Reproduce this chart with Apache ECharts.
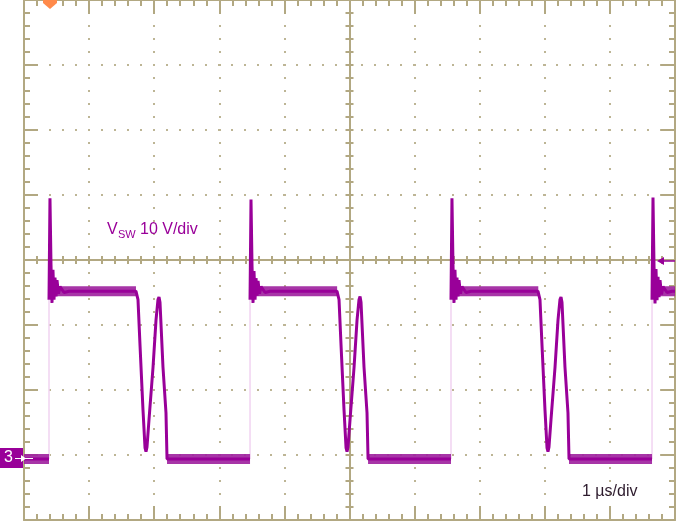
<!DOCTYPE html>
<html>
<head>
<meta charset="utf-8">
<script src="https://cdn.jsdelivr.net/npm/echarts@6/dist/echarts.min.js"></script>
<style>
html,body{margin:0;padding:0;background:#fff;}
#c{width:677px;height:523px;}
</style>
</head>
<body>
<div id="c"></div>
<script>
// ---- data (time in µs, V_SW in volts; ground of channel 3 at 0 V) ----
const timeUs = [
  0, 0.384, 0.384,
  0.384, 0.399, 0.415, 0.430, 0.445, 0.461, 0.476, 0.492, 0.507, 0.530, 0.553, 0.614, 0.691, 1.720, 1.751, 1.782, 1.828, 1.859, 1.874, 1.889, 1.920, 1.982, 2.028, 2.058, 2.074, 2.089, 2.135, 2.181, 2.197, 3.472, 3.472,
  3.472, 3.487, 3.503, 3.518, 3.533, 3.549, 3.564, 3.580, 3.595, 3.618, 3.641, 3.702, 3.779, 4.808, 4.839, 4.870, 4.916, 4.947, 4.962, 4.977, 5.008, 5.070, 5.116, 5.146, 5.162, 5.177, 5.223, 5.269, 5.285, 6.559, 6.559,
  6.559, 6.574, 6.590, 6.605, 6.620, 6.636, 6.651, 6.667, 6.682, 6.705, 6.728, 6.789, 6.866, 7.895, 7.926, 7.957, 8.003, 8.034, 8.049, 8.064, 8.095, 8.157, 8.203, 8.233, 8.249, 8.264, 8.310, 8.356, 8.372, 9.647, 9.647,
  9.647, 9.662, 9.678, 9.693, 9.708, 9.724, 9.739, 9.755, 9.770, 9.793, 9.816, 9.877, 9.954, 10
];
const vswV = [
  -0.6, -0.6, null,
  23.9, 39.5, 29.2, 23.4, 28.5, 23.9, 27.3, 24.4, 26.9, 24.8, 25.9, 25.0, 25.2, 25.2, 23.9, 16.9, 6.9, 1.1, 0.5, 1.2, 5.4, 13.5, 20.8, 23.9, 24.3, 23.5, 13.5, 6.5, -0.6, -0.6, null,
  23.9, 39.3, 29.0, 23.4, 28.3, 23.9, 27.2, 24.5, 26.8, 24.8, 25.9, 25.0, 25.2, 25.2, 23.9, 16.9, 6.9, 1.1, 0.5, 1.2, 5.4, 13.5, 20.8, 23.9, 24.4, 23.5, 13.5, 6.5, -0.6, -0.6, null,
  23.9, 39.5, 29.2, 23.4, 28.5, 23.9, 27.3, 24.4, 26.9, 24.8, 25.9, 25.0, 25.2, 25.2, 23.9, 16.9, 6.9, 1.1, 0.5, 1.2, 5.4, 13.5, 20.8, 23.9, 24.3, 23.5, 13.5, 6.5, -0.6, -0.6, null,
  23.9, 39.6, 29.0, 23.3, 28.6, 23.8, 27.4, 24.3, 26.9, 24.7, 25.9, 25.0, 25.2, 25.2
];
// fast rising edges (drawn faint on the scope)
const riseTimesUs = [0.384, 3.472, 6.559, 9.647];
const riseFromV = [-0.6, -0.6, -0.6, -0.6];
const riseToV = [23.9, 23.9, 23.9, 23.9];
// noise envelope of the plateaus
const lowBandStartUs = [0, 2.197, 5.285, 8.372];
const lowBandEndUs = [0.384, 3.472, 6.559, 9.647];
const lowBandV = [-0.6, -0.6, -0.6, -0.6];
const highBandStartUs = [0.40, 3.49, 6.58, 9.66];
const highBandEndUs = [1.72, 4.81, 7.90, 10];
const highBandV = [25.2, 25.2, 25.2, 25.2];

const timeMin = 0, timeMax = 10, timeDiv = 1;
const voltMin = -10, voltMax = 70, voltDiv = 10;

// ---- build ----
const traceData = timeUs.map((t, i) => [t, vswV[i] === null ? '-' : vswV[i]]);
const edgeData = [];
riseTimesUs.forEach((t, i) => { edgeData.push([t, riseFromV[i]], [t, riseToV[i]], [t, '-']); });
const bandData = [];
lowBandStartUs.forEach((s, i) => { bandData.push([s, lowBandV[i]], [lowBandEndUs[i], lowBandV[i]], [lowBandEndUs[i], '-']); });
highBandStartUs.forEach((s, i) => { bandData.push([s, highBandV[i]], [highBandEndUs[i], highBandV[i]], [highBandEndUs[i], '-']); });

const TAN = '#b2a882';
const DOT = '#bdb595';
const PURPLE = '#990099';
const rect = {left: 24, top: 0, width: 651, height: 520};

function borderAxis(pos, gi, isX, split) {
  return {
    type: 'value', gridIndex: gi, position: pos,
    min: isX ? timeMin : voltMin, max: isX ? timeMax : voltMax, interval: isX ? timeDiv : voltDiv,
    axisLine: {show: true, onZero: false, lineStyle: {color: TAN, width: 2}},
    axisTick: {show: true, inside: true, length: 14, lineStyle: {color: TAN, width: 2}},
    minorTick: {show: true, splitNumber: 5, length: 6, lineStyle: {color: TAN, width: 2}},
    axisLabel: {show: false},
    splitLine: {show: split, lineStyle: {color: DOT, width: 2, type: [2, 11], dashOffset: 1}},
    minorSplitLine: {show: false}
  };
}
function centerAxis(gi, isX, inside) {
  return {
    type: 'value', gridIndex: gi,
    min: isX ? -5 : -4, max: isX ? 5 : 4, interval: 1,
    axisLine: {show: true, onZero: true, lineStyle: {color: TAN, width: 2}},
    axisTick: {show: true, inside: inside, length: 4, lineStyle: {color: TAN, width: 2}},
    minorTick: {show: true, splitNumber: 5, length: 4, lineStyle: {color: TAN, width: 2}},
    axisLabel: {show: false},
    splitLine: {show: false}
  };
}

const chart = echarts.init(document.getElementById('c'), null, {renderer: 'canvas'});
chart.setOption({
  animation: false,
  backgroundColor: '#ffffff',
  grid: [
    Object.assign({}, rect),
    Object.assign({}, rect),
    Object.assign({}, rect)
  ],
  xAxis: [
    borderAxis('bottom', 0, true, true),
    borderAxis('top', 0, true, false),
    centerAxis(1, true, true),
    centerAxis(2, true, false)
  ],
  yAxis: [
    borderAxis('left', 0, false, true),
    borderAxis('right', 0, false, false),
    centerAxis(1, false, true),
    centerAxis(2, false, false)
  ],
  series: [
    {
      type: 'line', xAxisIndex: 0, yAxisIndex: 0, data: edgeData,
      symbol: 'none', connectNulls: false,
      lineStyle: {color: '#f1d3f1', width: 1.5}, z: 3
    },
    {
      type: 'line', xAxisIndex: 0, yAxisIndex: 0, data: bandData,
      symbol: 'none', connectNulls: false,
      lineStyle: {color: '#a024a0', width: 10, opacity: 0.92}, z: 4
    },
    {
      type: 'line', xAxisIndex: 0, yAxisIndex: 0, data: traceData,
      symbol: 'none', connectNulls: false,
      lineStyle: {color: PURPLE, width: 3}, z: 5
    }
  ],
  graphic: [
    // trigger position marker (orange)
    {type: 'polygon', shape: {points: [[43,0],[57,0],[57,3],[50,9],[43,3]]}, style: {fill: '#ff8a4a'}, z: 100},
    // channel 3 ground marker
    {type: 'rect', shape: {x: 0, y: 448, width: 23, height: 20}, style: {fill: PURPLE}, z: 100},
    {type: 'text', x: 4, y: 450, style: {text: '3', fill: '#ffffff', font: '16px "Liberation Sans", Arial, sans-serif'}, z: 101},
    {type: 'line', shape: {x1: 15, y1: 458.5, x2: 33, y2: 458.5}, style: {stroke: '#ffffff', lineWidth: 1}, z: 101},
    {type: 'polygon', shape: {points: [[21,455],[26,458.5],[21,462]]}, style: {fill: '#ffffff'}, z: 101},
    // trigger level marker
    {type: 'polygon', shape: {points: [[657,261],[664,257],[664,265]]}, style: {fill: PURPLE}, z: 100},
    {type: 'line', shape: {x1: 662, y1: 261, x2: 675, y2: 261}, style: {stroke: PURPLE, lineWidth: 1.5}, z: 100},
    // labels
    {type: 'text', x: 107, y: 222, style: {text: 'V', fill: PURPLE, font: '16px "Liberation Sans", Arial, sans-serif'}, z: 100},
    {type: 'text', x: 118, y: 229, style: {text: 'SW', fill: PURPLE, font: '11px "Liberation Sans", Arial, sans-serif'}, z: 100},
    {type: 'text', x: 140, y: 222, style: {text: '10 V/div', fill: PURPLE, font: '16px "Liberation Sans", Arial, sans-serif'}, z: 100},
    {type: 'text', x: 582, y: 484, style: {text: '1 \u00b5s/div', fill: '#2d1b2d', font: '16px "Liberation Sans", Arial, sans-serif'}, z: 100}
  ]
});
</script>
</body>
</html>
